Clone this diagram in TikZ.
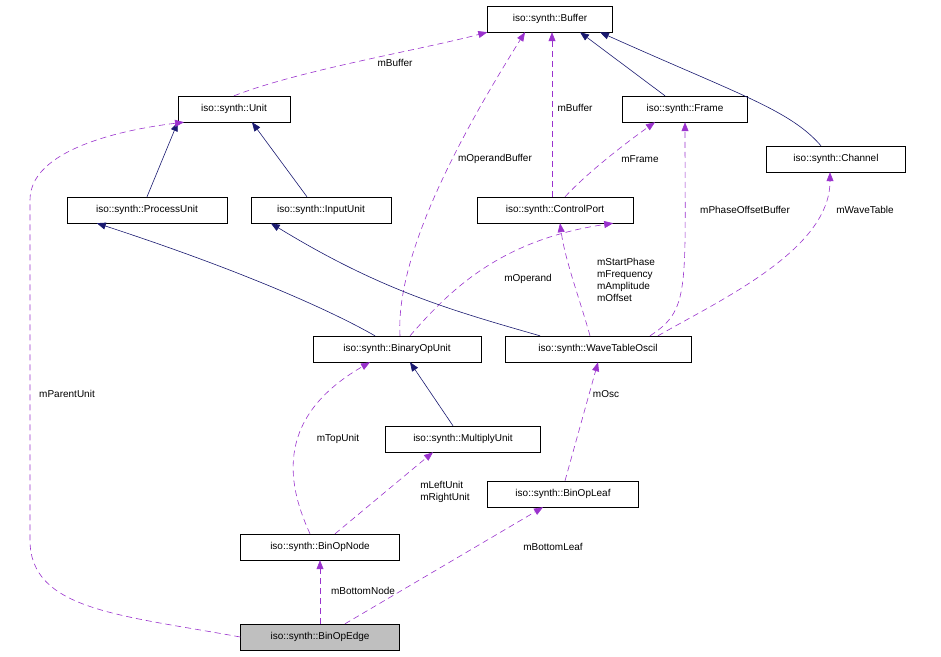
\documentclass[tikz,border=0pt]{standalone}
\usepackage{fontspec}
\setmainfont{Liberation Sans}
\usetikzlibrary{arrows.meta}
\definecolor{pur}{HTML}{9A32CD}
\definecolor{nav}{HTML}{191970}
\begin{document}
\begin{tikzpicture}[x=1pt,y=-1pt,
 box/.style={draw,fill=white,minimum height=26pt,inner sep=0pt,font=\fontsize{10}{12}\selectfont},
 dep/.style={pur,dash pattern=on 6pt off 4pt,-{Triangle[length=9pt,width=7pt]},line width=0.6pt},
 inh/.style={nav,-{Triangle[length=9pt,width=7pt]},line width=0.6pt},
 lab/.style={font=\fontsize{10}{12}\selectfont,inner sep=0pt,align=left}]
\useasboundingbox (0,0) rectangle (941,656);
\node[box,minimum width=125pt] (buf) at (550,19) {iso::synth::Buffer};
\node[box,minimum width=112pt] (unit) at (234,109) {iso::synth::Unit};
\node[box,minimum width=125pt] (frame) at (685,109) {iso::synth::Frame};
\node[box,minimum width=139pt] (chan) at (836,159) {iso::synth::Channel};
\node[box,minimum width=160pt] (pu) at (147,210) {iso::synth::ProcessUnit};
\node[box,minimum width=140pt] (iu) at (321,210) {iso::synth::InputUnit};
\node[box,minimum width=156pt] (cp) at (555,210) {iso::synth::ControlPort};
\node[box,minimum width=168pt] (bou) at (397,349) {iso::synth::BinaryOpUnit};
\node[box,minimum width=186pt] (wto) at (598,349) {iso::synth::WaveTableOscil};
\node[box,minimum width=155pt] (mu) at (463,439) {iso::synth::MultiplyUnit};
\node[box,minimum width=151pt] (leaf) at (563,494) {iso::synth::BinOpLeaf};
\node[box,minimum width=159pt] (node) at (320,547) {iso::synth::BinOpNode};
\node[box,minimum width=159pt,fill={rgb,255:red,191;green,191;blue,191}] (edge) at (320,637) {iso::synth::BinOpEdge};

\draw[dep] (unit.north) .. controls (300,70) and (420,50) .. (buf.south west);
\node[lab] (l1) at (395,63) {mBuffer};
\draw[inh] (pu.north) -- (unit.south west);
\draw[inh] ([xshift=-14pt]iu.north) -- ([xshift=18pt]unit.south);
\draw[inh] ([xshift=-20pt]frame.north) -- ([xshift=30pt]buf.south);
\draw[inh] ([xshift=-15pt]chan.north) .. controls (790,110) and (740,95) .. ([xshift=50pt]buf.south);
\draw[dep] ([xshift=-3pt]cp.north) -- ([xshift=2pt]buf.south);
\node[lab] (l2) at (575,108) {mBuffer};
\draw[dep] ([xshift=10pt]cp.north) .. controls (590,170) and (630,140) .. ([xshift=-30pt]frame.south);
\node[lab] (l3) at (640,159) {mFrame};
\draw[dep] ([xshift=3pt]bou.north) .. controls (395,250) and (470,120) .. ([xshift=-25pt]buf.south);
\node[lab] (l4) at (495,159) {mOperandBuffer};
\draw[inh] ([xshift=-22pt]bou.north) .. controls (330,310) and (240,270) .. ([xshift=30pt]pu.south west);
\draw[dep] ([xshift=13pt]bou.north) .. controls (450,290) and (500,240) .. ([xshift=-20pt]cp.south east);
\node[lab] (l5) at (528,279) {mOperand};
\draw[inh] ([xshift=-58pt]wto.north) .. controls (450,310) and (380,290) .. ([xshift=20pt]iu.south west);
\draw[dep] ([xshift=-8pt]wto.north) .. controls (580,300) and (565,260) .. ([xshift=5pt]cp.south);
\node[lab] (l6) at (626,280) {mStartPhase\\mFrequency\\mAmplitude\\mOffset};
\draw[dep] ([xshift=52pt]wto.north) .. controls (690,310) and (685,290) .. (frame.south);
\node[lab] (l7) at (745,210) {mPhaseOffsetBuffer};
\draw[dep] ([xshift=60pt]wto.north) .. controls (720,300) and (830,250) .. ([xshift=-6pt]chan.south);
\node[lab] (l8) at (865,210) {mWaveTable};
\draw[inh] ([xshift=-10pt]mu.north) -- ([xshift=13pt]bou.south);
\draw[dep] ([xshift=2pt]leaf.north) -- (wto.south);
\node[lab] (l9) at (606,394) {mOsc};
\draw[dep] ([xshift=-10pt]node.north) .. controls (290,490) and (270,420) .. ([xshift=-27pt]bou.south);
\node[lab] (l10) at (338,439) {mTopUnit};
\draw[dep] ([xshift=15pt]node.north) -- ([xshift=-30pt]mu.south);
\node[lab] (l11) at (445,492) {mLeftUnit\\mRightUnit};
\draw[dep] (edge.north) -- (node.south);
\node[lab] (l12) at (363,591) {mBottomNode};
\draw[dep] ([xshift=25pt]edge.north) -- ([xshift=-20pt]leaf.south);
\node[lab] (l13) at (553,547) {mBottomLeaf};
\draw[dep] (edge.west) .. controls (120,615) and (30,610) .. (30,540) -- (30,200) .. controls (30,150) and (120,130) .. ([xshift=-50pt]unit.south);
\node[lab] (l14) at (67,394) {mParentUnit};
\end{tikzpicture}
\end{document}
